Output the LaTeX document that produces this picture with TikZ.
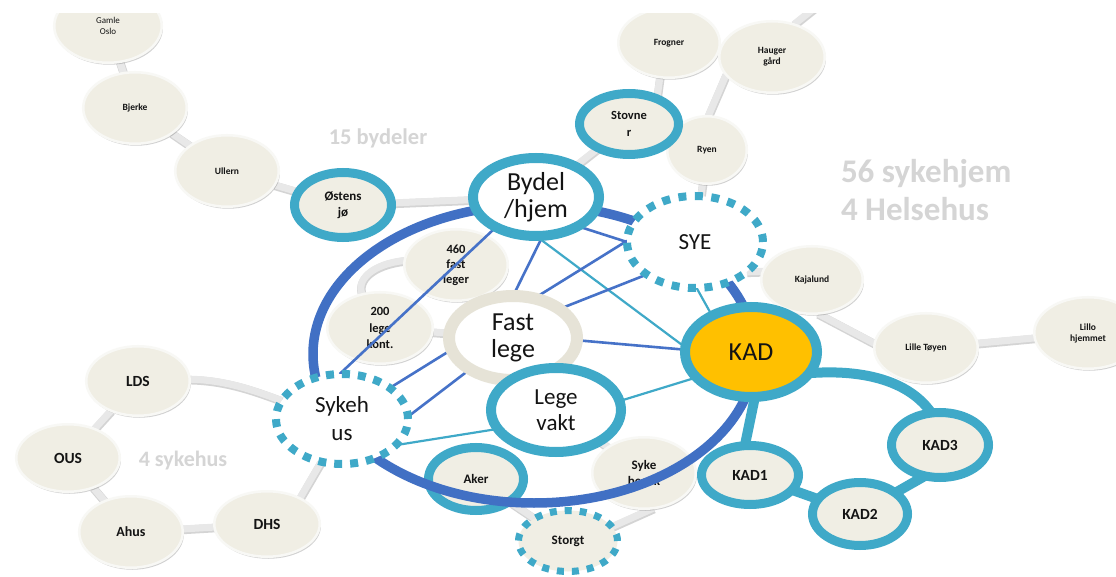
\documentclass[tikz,border=0pt]{standalone}
\usepackage{fontspec}
\setmainfont{Carlito}
\usetikzlibrary{shapes.geometric,shadows}

\definecolor{ringteal}{HTML}{3FA9C8}
\definecolor{arcblue}{HTML}{4170C4}
\definecolor{linkblue}{HTML}{4672C8}
\definecolor{kadgold}{HTML}{FFC000}
\definecolor{tanring}{HTML}{E6E3D7}
\definecolor{placefill}{HTML}{F0EEE4}
\definecolor{placerim}{HTML}{F8F8F5}
\definecolor{captiongrey}{HTML}{D5D5D5}
\definecolor{linkgrey}{HTML}{E8E8E8}
\definecolor{linkshade}{HTML}{D4D4D4}

\pgfdeclarelayer{back}
\pgfdeclarelayer{greylinks}
\pgfdeclarelayer{places}
\pgfdeclarelayer{bluelinks}
\pgfdeclarelayer{ring}
\pgfdeclarelayer{cover}
\pgfsetlayers{back,greylinks,places,bluelinks,ring,main,cover}

\newcommand\myfs[2]{\fontsize{#1}{#2}\selectfont}

\tikzset{
  every node/.style={inner sep=0pt, outer sep=0pt, align=center, text=black!92},
  place/.style={ellipse, fill=placefill, draw=placerim, line width=2.5pt,
    drop shadow={shadow xshift=1.2pt, shadow yshift=-2pt, opacity=0.18, fill=black},
    font=\bfseries\myfs{9.5}{11}},
  tealplace/.style={ellipse, fill=placefill, draw=ringteal, line width=9pt,
    font=\bfseries\myfs{13}{16}},
  dashplace/.style={ellipse, draw=ringteal, line width=7pt, dash pattern=on 7pt off 8pt},
  hub/.style={ellipse, fill=white, draw=ringteal, line width=10pt, font=\myfs{26}{27}},
  greylink/.style={draw=linkgrey, line width=7pt,
    preaction={draw=linkshade, line width=8.5pt, transform canvas={xshift=0.5pt,yshift=-1pt}}},
  bluelink/.style={draw=linkblue, line width=2.6pt},
  teallink/.style={draw=ringteal, line width=2.2pt},
  kadlink/.style={draw=ringteal, line width=10pt},
  caption/.style={text=captiongrey, font=\bfseries},
}

\begin{document}
\begin{tikzpicture}[x=1pt, y=-1pt]
\begin{pgfonlayer}{back}
  \fill[white] (0,0) rectangle (1116,577);
\end{pgfonlayer}
\useasboundingbox (0,0) rectangle (1116,577);

% districts, nursing homes and hospitals
\begin{pgfonlayer}{places}
  \node[place, font=\myfs{9}{11}, minimum width=107.5, minimum height=73.5] (GamleOslo) at (108,26) {Gamle\\Oslo};
  \node[place, minimum width=103.5, minimum height=71.5] (Bjerke) at (135,108) {Bjerke};
  \node[place, minimum width=103.5, minimum height=71.5] (Ullern) at (227,171) {Ullern};
  \node[place, minimum width=101.5, minimum height=69.5] (Frogner) at (669,43) {Frogner};
  \node[place, minimum width=105.5, minimum height=71.5] (Hauger) at (772,57) {Hauger\\gård};
  \node[place, minimum width=79.5, minimum height=67.5] (Ryen) at (707,150) {Ryen};
  \node[place, minimum width=101.5, minimum height=67.5] (Kajalund) at (812,280) {Kajalund};
  \node[place, minimum width=103.5, minimum height=69.5] (LilleToyen) at (926,348) {Lille Tøyen};
  \node[place, minimum width=107.5, minimum height=71.5] (Lillo) at (1088,333) {Lillo\\hjemmet};
  \node[place, font=\bfseries\myfs{15.5}{17}, minimum width=103.5, minimum height=69.5] (LDS) at (138,381) {LDS};
  \node[place, font=\bfseries\myfs{15.5}{17}, minimum width=103.5, minimum height=67.5] (OUS) at (68,458) {OUS};
  \node[place, font=\bfseries\myfs{14}{16}, minimum width=103.5, minimum height=71.5] (Ahus) at (131,532) {Ahus};
  \node[place, font=\bfseries\myfs{15.5}{17}, minimum width=105.5, minimum height=65.5] (DHS) at (267,524) {DHS};
  \node[place, font=\bfseries\myfs{12.5}{15}, minimum width=103.5, minimum height=71.5] (FL460) at (456,265) {460\\fast\\leger};
  \node[place, font=\bfseries\myfs{12.5}{16.5}, minimum width=105.5, minimum height=71.5] (Kont200) at (380,328) {200\\lege\\kont.};
  \node[place, font=\bfseries\myfs{13}{16}, minimum width=103.5, minimum height=71.5] (SykeBesok) at (644,473) {Syke\\besøk};
  \node[tealplace, minimum width=95, minimum height=63] (Aker) at (476,479) {Aker};
\end{pgfonlayer}

\node[tealplace, minimum width=97, minimum height=65] (Ostensjo) at (343,205) {Østens\\jø};
\node[tealplace, font=\bfseries\myfs{12.5}{17}, minimum width=99, minimum height=61] (Stovner) at (629,124) {Stovne\\r};
\node[dashplace, fill=placefill, font=\bfseries\myfs{13}{15}, minimum width=99, minimum height=61] (Storgt) at (568,541) {Storgt};
\node[tealplace, font=\bfseries\myfs{15.5}{17}, minimum width=97, minimum height=59] (KAD1) at (750,475) {KAD1};
\node[tealplace, font=\bfseries\myfs{15.5}{17}, minimum width=95, minimum height=63] (KAD2) at (860,514) {KAD2};
\node[tealplace, font=\bfseries\myfs{15.5}{17}, minimum width=97, minimum height=65] (KAD3) at (940,445) {KAD3};

% the central services
\node[hub, minimum width=126, minimum height=78] (Bydel) at (536,197) {Bydel\\/hjem};
\node[dashplace, fill=white, line width=8pt, dash pattern=on 8pt off 8.5pt, font=\myfs{23}{26},
      minimum width=136, minimum height=92] (SYE) at (695,242) {SYE};
\node[hub, draw=tanring, line width=12pt, minimum width=128, minimum height=84] (FastLege) at (513,338) {Fast\\lege};
\node[hub, font=\myfs{23}{26}, minimum width=130, minimum height=84] (LegeVakt) at (556,410) {Lege\\vakt};
\node[dashplace, fill=white, line width=8pt, dash pattern=on 8pt off 8pt, font=\myfs{23}{28},
      minimum width=132, minimum height=90] (Sykehus) at (342,419) {Sykeh\\us};
\node[hub, fill=kadgold, minimum width=132, minimum height=90] (KAD) at (751,352) {KAD};

\coordinate (hgEnd) at (822,2);

% captions
\node[caption, font=\bfseries\myfs{22.5}{24}] (capBydeler) at (378,138) {15 bydeler};
\node[caption, font=\bfseries\myfs{33}{38}, anchor=west, align=left] (capSykehjem) at (841,190) {56 sykehjem\\4 Helsehus};
\node[caption, font=\bfseries\myfs{22}{24}] (capSykehus) at (183,461) {4 sykehus};

% light grey chains between places
\begin{pgfonlayer}{greylinks}
  \draw[greylink] (GamleOslo) -- (Bjerke);
  \draw[greylink] (Bjerke) -- (Ullern);
  \draw[greylink] (Ullern) -- (Ostensjo);
  \draw[greylink] (Ostensjo) -- (Bydel);
  \draw[greylink] (Bydel) -- (Stovner);
  \draw[greylink] (Stovner.42) -- (Frogner.255);
  \draw[greylink] (Hauger.201) -- (Ryen.88);
  \draw[greylink] (Hauger.56) -- (hgEnd);
  \draw[greylink] (Ryen) -- (SYE);
  \draw[greylink] (SYE.330) -- (Kajalund.170);
  \draw[greylink] (Kajalund.280) -- (LilleToyen.175);
  \draw[greylink] (LilleToyen) -- (Lillo);
  \draw[greylink] (FL460.175) .. controls (372,264) and (356,280) .. (Kont200.118);
  \draw[greylink] (Kont200) -- (FastLege);
  \draw[greylink] (LDS.2) .. controls (228,380) and (258,392) .. (Sykehus.163);
  \draw[greylink] (LDS) -- (OUS);
  \draw[greylink] (OUS) -- (Ahus);
  \draw[greylink] (Ahus) -- (DHS);
  \draw[greylink] (DHS.38) -- (Sykehus.244);
  \draw[greylink] (LegeVakt) -- (SykeBesok);
  \draw[greylink] (Aker) -- (Storgt);
  \draw[greylink] (SykeBesok.285) -- (Storgt.18);
\end{pgfonlayer}

% cooperation lines between the services
\begin{pgfonlayer}{bluelinks}
  \draw[bluelink] (Bydel.217) -- (Sykehus.93);
  \draw[bluelink] (Bydel.280) -- (FastLege.90);
  \draw[teallink] (Bydel.270) -- (KAD.176);
  \draw[bluelink] (Bydel.325) -- (SYE.180);
  \draw[bluelink] (Sykehus.33) -- (SYE.179);
  \draw[bluelink] (FastLege.32) -- (SYE.214);
  \draw[bluelink] (FastLege.358) -- (KAD.178);
  \draw[bluelink] (Sykehus.2) -- (FastLege.216);
  \draw[teallink] (Sykehus.334) -- (LegeVakt.198);
  \draw[teallink] (LegeVakt.8) -- (KAD.205);
  \draw[teallink] (SYE.272) -- (KAD.137);
\end{pgfonlayer}

% the surrounding ring and the KAD units
\begin{pgfonlayer}{ring}
  \draw[arcblue, line width=9.5pt] (534,354) ellipse [x radius=221, y radius=149];
  \draw[kadlink] (KAD.275) -- (KAD1.100);
  \draw[kadlink] (KAD1) -- (KAD2);
  \draw[kadlink] (KAD2.31) -- (KAD3.244);
  \draw[kadlink] (KAD.-20) .. controls (850,370) and (905,375) .. (KAD3.105);
\end{pgfonlayer}

% blank strip along the top edge
\begin{pgfonlayer}{cover}
  \fill[white] (0,0) rectangle (1116,13);
\end{pgfonlayer}
\end{tikzpicture}
\end{document}
